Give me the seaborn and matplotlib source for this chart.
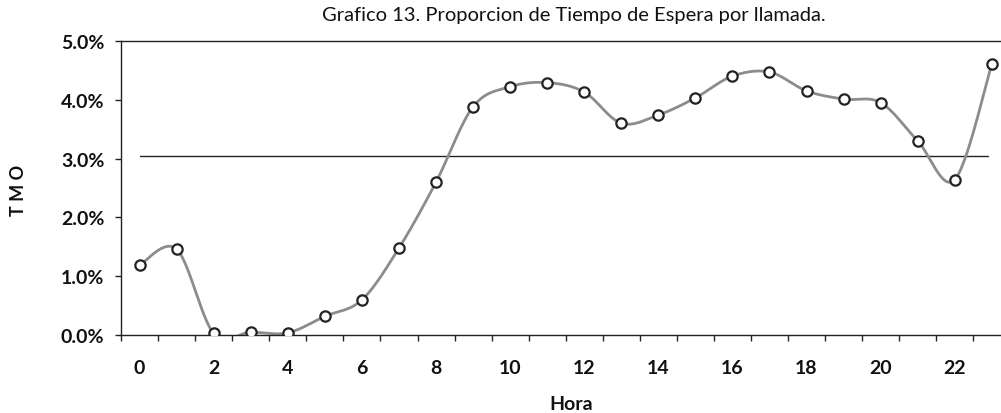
import numpy as np
import pandas as pd
import matplotlib
matplotlib.use("Agg")
import matplotlib.pyplot as plt
import seaborn as sns
from matplotlib.ticker import FuncFormatter, FixedLocator

# ---- data ----
horas = list(range(24))
tmo = [1.19, 1.46, 0.03, 0.05, 0.04, 0.32, 0.60, 1.48, 2.60, 3.88, 4.22, 4.29,
       4.13, 3.60, 3.74, 4.03, 4.40, 4.47, 4.15, 4.01, 3.95, 3.30, 2.64, 4.60]
meta = 3.05
titulo = "Grafico 13. Proporcion de Tiempo de Espera por llamada."
xlabel = "Hora"
ylabel = "T M O"
xtick_labels = [str(h) for h in range(0, 24, 2)]

sns.set_theme(style="white")
plt.rcParams['font.family'] = ['Lato', 'DejaVu Sans']

df = pd.DataFrame({"hora": horas, "tmo": tmo})

# smooth curve (Catmull-Rom, as the spreadsheet 'smoothed line' does)
def catmull_rom(x, y, n=30):
    x = np.asarray(x, float); y = np.asarray(y, float)
    px = np.concatenate([[x[0]], x, [x[-1]]])
    py = np.concatenate([[y[0]], y, [y[-1]]])
    xs, ys = [], []
    for i in range(1, len(px) - 2):
        t = np.linspace(0, 1, n, endpoint=False)
        def cr(a0, a1, a2, a3):
            return 0.5 * ((2*a1) + (-a0 + a2)*t + (2*a0 - 5*a1 + 4*a2 - a3)*t**2 + (-a0 + 3*a1 - 3*a2 + a3)*t**3)
        xs.append(cr(px[i-1], px[i], px[i+1], px[i+2]))
        ys.append(cr(py[i-1], py[i], py[i+1], py[i+2]))
    xs.append([x[-1]]); ys.append([y[-1]])
    return np.concatenate(xs), np.concatenate(ys)

sx, sy = catmull_rom(df["hora"], df["tmo"])
smooth = pd.DataFrame({"hora": sx, "tmo": sy})

fig = plt.figure(figsize=(10.01, 4.14), dpi=100)
ax = fig.add_axes([0.121, 0.188, 0.879, 0.711])

ax.plot([horas[0], 22.9], [meta, meta], color="#222222", lw=1.0, zorder=1)

sns.lineplot(data=smooth, x="hora", y="tmo", ax=ax, color="#8c8c8c", lw=2.0,
             sort=False, estimator=None, zorder=2)
sns.scatterplot(data=df, x="hora", y="tmo", ax=ax, s=55, color="white",
                edgecolor="#222222", linewidth=1.6, zorder=3)

ax.set_xlim(-0.5, 23.25)
ax.set_ylim(0, 5.0)
ax.set_yticks(np.arange(0, 5.01, 1.0))
ax.yaxis.set_major_formatter(FuncFormatter(lambda v, p: f"{v:.1f}%"))

ax.xaxis.set_major_locator(FixedLocator(np.arange(-0.5, 23.6, 1.0)))
ax.xaxis.set_minor_locator(FixedLocator(list(range(0, 24, 2))))
ax.set_xticklabels([])
ax.set_xticklabels(xtick_labels, minor=True)
ax.tick_params(axis="x", which="major", length=4, width=1, color="#222222", direction="out", bottom=True)
ax.tick_params(axis="x", which="minor", length=0, pad=17, labelsize=14)
ax.tick_params(axis="y", length=4, width=1, color="#222222", direction="out", left=True, labelsize=14, pad=8)
for lab in ax.get_xticklabels(minor=True) + ax.get_yticklabels():
    lab.set_fontweight("bold")
    lab.set_color("#111111")

for s in ["left", "bottom", "top"]:
    ax.spines[s].set_visible(True)
    ax.spines[s].set_color("#222222")
    ax.spines[s].set_linewidth(1.0)
ax.spines["right"].set_visible(False)

ax.set_xlabel("")
ax.set_ylabel("")
fig.text(0.571, 0.022 - 0.02, xlabel, ha="center", va="bottom", fontsize=14, fontweight="bold", color="#111111")
fig.text(0.018, 0.54, ylabel, ha="center", va="center", rotation=90, fontsize=13, fontweight="bold", color="#111111")
fig.text(0.573, 0.963, titulo, ha="center", va="center", fontsize=14.5, color="#111111")

fig.savefig("out.png", dpi=100)
